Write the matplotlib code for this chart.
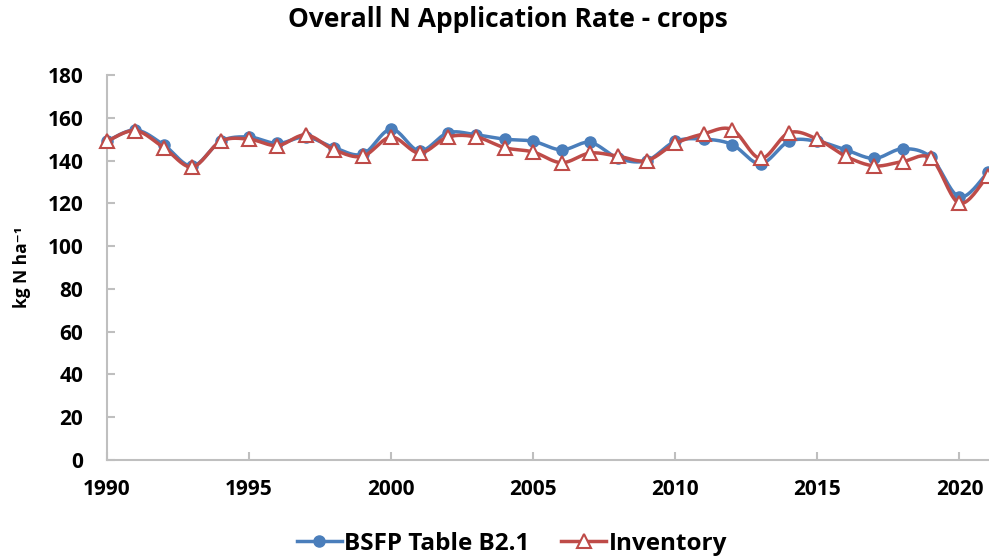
import numpy as np
import matplotlib.pyplot as plt

plt.rcParams['font.family'] = ['Open Sans', 'DejaVu Sans']

years = list(range(1990, 2022))
bsfp = [149, 154.3, 147.3, 137.4, 149, 151, 148, 151, 146, 143,
        154.7, 144.5, 153, 152, 150, 149, 145, 148.5, 141, 140,
        149, 150, 147.5, 138.5, 149, 149, 145, 141, 145.5, 141.5,
        123, 134.5]
inventory = [149, 154, 146, 137, 149, 150, 147, 152, 145, 142,
             151, 143.5, 151, 151, 146, 144, 139, 143.5, 142, 140,
             148, 152.5, 154.5, 141, 153, 150, 142, 137.5, 139.5, 141,
             120, 133]


def smooth(x, y, n=20):
    # Excel-style smoothed line (Catmull-Rom) through the points
    x = np.asarray(x, float)
    y = np.asarray(y, float)
    px = np.concatenate([[x[0]], x, [x[-1]]])
    py = np.concatenate([[y[0]], y, [y[-1]]])
    xs, ys = [], []
    t = np.linspace(0, 1, n, endpoint=False)
    for i in range(1, len(px) - 2):
        for arr, out in ((px, xs), (py, ys)):
            p0, p1, p2, p3 = arr[i - 1], arr[i], arr[i + 1], arr[i + 2]
            c1 = p1 + (p2 - p0) / 6
            c2 = p2 - (p3 - p1) / 6
            out.extend((1 - t) ** 3 * p1 + 3 * (1 - t) ** 2 * t * c1
                       + 3 * (1 - t) * t ** 2 * c2 + t ** 3 * p2)
    xs.append(x[-1])
    ys.append(y[-1])
    return np.array(xs), np.array(ys)


blue = '#4a7ebb'
red = '#be4b48'

fig = plt.figure(figsize=(9.89, 5.58), dpi=100)
ax = fig.add_axes([107 / 989, 1 - 460 / 558, 1 - 107 / 989, 385 / 558])

sx, sy = smooth(years, bsfp)
ax.plot(sx, sy, color=blue, lw=2.5, clip_on=False, zorder=2)
ax.plot(years, bsfp, 'o', color=blue, ms=8, clip_on=False, zorder=2)
sx, sy = smooth(years, inventory)
ax.plot(sx, sy, color=red, lw=2.5, clip_on=False, zorder=3)
ax.plot(years, inventory, '^', mfc='white', mec=red, mew=1.5, ms=10,
        clip_on=False, zorder=3)

ax.set_xlim(1990, 2021.04)
ax.set_ylim(0, 180)
ax.set_xticks(range(1990, 2021, 5))
ax.set_yticks(range(0, 181, 20))
for s in ['top', 'right']:
    ax.spines[s].set_visible(False)
for s in ['left', 'bottom']:
    ax.spines[s].set_color('#bfbfbf')
    ax.spines[s].set_linewidth(1.5)
ax.tick_params(axis='both', direction='in', color='#bfbfbf', width=1.5, length=6,
               labelsize=15)
ax.tick_params(axis='x', pad=14)
ax.tick_params(axis='y', pad=17)
for lab in ax.get_xticklabels() + ax.get_yticklabels():
    lab.set_fontweight('bold')

ax.set_ylabel('kg N ha\u207b\u00b9', fontsize=12.5, fontweight='bold', labelpad=12)
fig.suptitle('Overall N Application Rate - crops', x=508 / 989, y=0.99,
             fontsize=19, fontweight='bold')

h1 = plt.Line2D([], [], color=blue, lw=2.5, marker='o', ms=8)
h2 = plt.Line2D([], [], color=red, lw=2.5, marker='^', mfc='white', mec=red,
                mew=1.5, ms=10)
fig.legend([h1, h2], ['BSFP Table B2.1', 'Inventory'], loc='center',
           bbox_to_anchor=(512 / 989, 1 - 544 / 558), ncol=2, frameon=False,
           prop={'weight': 'bold', 'size': 17.5}, handlelength=1.85,
           handletextpad=0.1, columnspacing=1.3)

fig.savefig('out.png', dpi=100)
